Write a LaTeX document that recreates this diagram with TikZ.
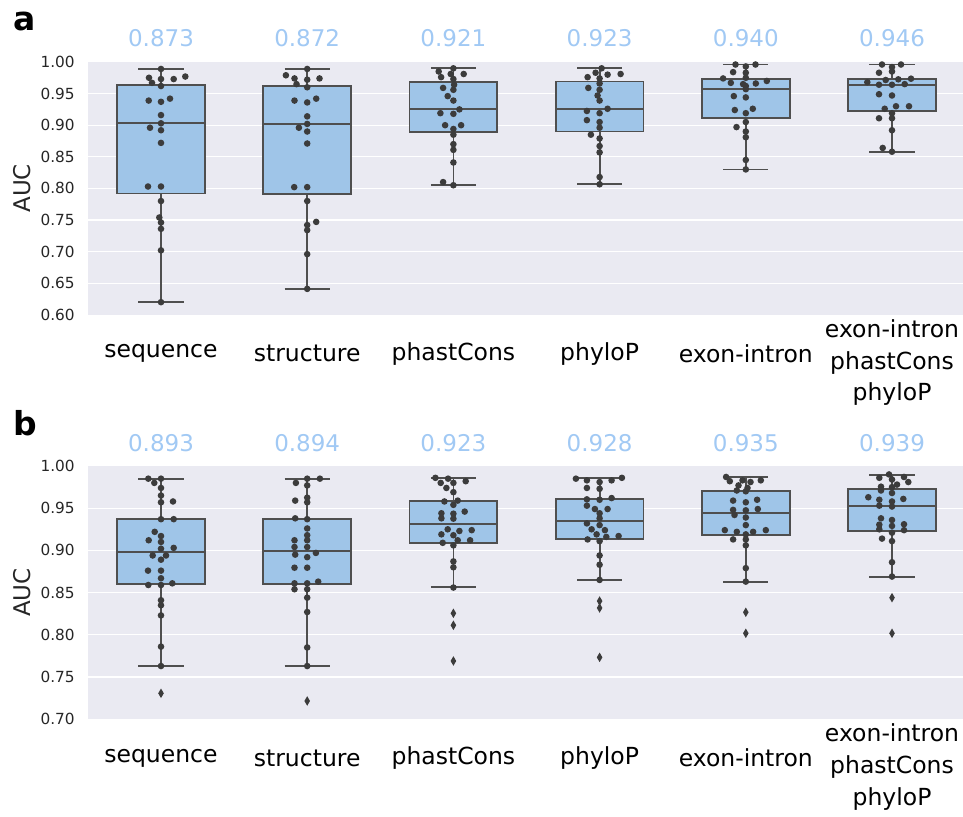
\documentclass[tikz,border=0pt]{standalone}
\usepackage{fontspec}
\setmainfont{DejaVu Sans}
\usepackage{xcolor}
\usepackage{tikz}
\definecolor{panelbg}{HTML}{EAEAF2}
\definecolor{boxblue}{HTML}{9FC5E8}
\definecolor{meanblue}{HTML}{A1C9F4}
\definecolor{boxline}{HTML}{4F4F4F}
\definecolor{dotgray}{HTML}{3C3C3C}
\definecolor{ticktext}{HTML}{262626}
\tikzstyle{panel} = [fill=panelbg]
\tikzstyle{gridline} = [white, line width=1.3pt]
\tikzstyle{ticklab} = [anchor=east, text=ticktext, font=\fontsize{15.3}{18}\selectfont, inner sep=0pt]
\tikzstyle{meanlab} = [text=meanblue, font=\fontsize{23}{28}\selectfont, inner sep=0pt]
\tikzstyle{catlab} = [text=black, font=\fontsize{23.5}{31.7}\selectfont, align=center, inner sep=0pt]
\tikzstyle{axislab} = [rotate=90, text=ticktext, font=\fontsize{23}{28}\selectfont, inner sep=0pt]
\tikzstyle{panellab} = [anchor=base west, font=\fontsize{33}{40}\selectfont\bfseries, inner sep=0pt]
\tikzstyle{boxbody} = [fill=boxblue, draw=boxline, line width=1.8pt]
\tikzstyle{whisker} = [draw=boxline, line width=1.8pt]
\tikzstyle{swarmdot} = [fill=dotgray]
% box: position, low whisker, Q1, median, Q3, high whisker
\newcommand{\aucbox}[6]{%
  \draw[whisker] (#1,#2) -- (#1,#3) (#1,#5) -- (#1,#6)
    (#1-0.154,#2) -- (#1+0.154,#2) (#1-0.154,#6) -- (#1+0.154,#6);
  \filldraw[boxbody] (#1-0.3,#3) rectangle (#1+0.3,#5);
  \draw[whisker] (#1-0.3,#4) -- (#1+0.3,#4);
}
% swarm points: position, list of offset/value
\newcommand{\swarm}[2]{\foreach \dx/\v in {#2} \fill[swarmdot] ([xshift=\dx pt]#1,\v) circle (3.3pt);}
% outlier diamond
\newcommand{\flier}[2]{\fill[swarmdot] ([yshift=4.8pt]#1,#2) -- ++(2.8pt,-4.8pt) -- ++(-2.8pt,-4.8pt) -- ++(-2.8pt,4.8pt) -- cycle;}

\begin{document}
\begin{tikzpicture}[x=1pt, y=-1pt]
	\useasboundingbox (0,0) rectangle (963,816);
	\node[panellab] (taga) at (13,31) {a};
	\node[panellab] (tagb) at (13,435) {b};
	% panel a
	\begin{scope}[x=146.2pt, y=632pt, xshift=14.8pt, yshift=-694pt]
		\fill[panel] (0.5,0.6) rectangle (6.5,1.0);
		\foreach \g in {0.65,0.70,0.75,0.80,0.85,0.90,0.95} \draw[gridline] (0.5,\g) -- (6.5,\g);
		\foreach \g [count=\k] in {0.60,0.65,0.70,0.75,0.80,0.85,0.90,0.95,1.00}
			\node[ticklab] (ticka\k) at ([xshift=-13pt]0.5,\g) {\g};
		\node[axislab] (auca) at ([xshift=-66pt]0.5,0.8) {AUC};
		\foreach \m [count=\i] in {0.873,0.872,0.921,0.923,0.940,0.946}
			\node[meanlab] (meana\i) at ([yshift=24pt]\i,1.0) {\m};
		\foreach \c [count=\i] in {sequence,structure,phastCons,phyloP,exon-intron}
			\node[catlab] (cata\i) at ([yshift=-39pt]\i,0.6) {\c};
		\node[catlab] (cata6) at ([yshift=-48pt]6,0.6) {exon-intron\\phastCons\\phyloP};
		\aucbox{1}{0.620}{0.792}{0.903}{0.964}{0.989}
		\aucbox{2}{0.641}{0.791}{0.902}{0.9625}{0.989}
		\aucbox{3}{0.805}{0.889}{0.926}{0.968}{0.990}
		\aucbox{4}{0.8065}{0.890}{0.926}{0.969}{0.990}
		\aucbox{5}{0.830}{0.912}{0.957}{0.973}{0.996}
		\aucbox{6}{0.858}{0.923}{0.964}{0.973}{0.996}
		\swarm{1}{0/0.989,-12/0.975,0/0.973,12.7/0.973,24.3/0.977,-9/0.967,0/0.962,-12.3/0.939,0/0.937,9/0.942,0/0.916,-11/0.896,0/0.903,0/0.892,0/0.872,-13/0.803,0/0.803,0/0.780,-1.7/0.754,0/0.746,0/0.736,0/0.702,0/0.620}
		\swarm{2}{0/0.989,-21.3/0.979,-12.7/0.974,0/0.972,12.3/0.974,-10.7/0.965,0/0.960,-12.7/0.939,0/0.936,9/0.942,0/0.914,-8.3/0.896,0/0.902,0/0.890,0/0.871,-13/0.802,0/0.802,0/0.780,9/0.747,0/0.742,0/0.734,0/0.696,0/0.641}
		\swarm{3}{0/0.990,-14.7/0.985,-12.3/0.976,-2.7/0.981,10.3/0.981,0/0.973,0.7/0.964,-10.3/0.959,0/0.956,-5.7/0.946,0/0.939,6/0.925,-13/0.919,0/0.918,-8.3/0.900,7.7/0.900,0/0.894,0/0.885,0/0.870,0/0.861,0/0.841,-10.3/0.810,0/0.805}
		\swarm{4}{2/0.990,-4/0.983,-12/0.976,0/0.974,8/0.980,21/0.981,0/0.966,0/0.956,-11.3/0.959,-2/0.947,0/0.939,8/0.926,-12.7/0.9225,0/0.919,-12.7/0.908,0/0.905,0/0.896,-8.7/0.885,0/0.879,0/0.867,0/0.857,0/0.818,0/0.8065}
		\swarm{5}{-10.3/0.996,9.7/0.996,0/0.993,-12.7/0.984,0/0.983,-22.7/0.974,0/0.975,-15/0.967,-2.7/0.965,10/0.966,21/0.970,0/0.962,0/0.957,-12/0.946,0/0.944,-11/0.924,7/0.926,0/0.919,-9.3/0.897,0/0.905,0/0.890,0/0.881,0/0.845,0/0.830}
		\swarm{6}{-10/0.996,9/0.996,0/0.992,0/0.985,-13/0.983,-24.7/0.968,-6.3/0.9715,6.3/0.9726,19/0.9736,-13/0.964,0/0.964,12.7/0.965,-13/0.949,0/0.947,-7.3/0.926,4/0.930,17/0.930,0/0.919,-13/0.911,0/0.911,0/0.892,-9.3/0.864,0/0.858}
	\end{scope}
	% panel b
	\begin{scope}[x=146.2pt, y=844pt, xshift=14.8pt, yshift=-1310pt]
		\fill[panel] (0.5,0.7) rectangle (6.5,1.0);
		\foreach \g in {0.75,0.80,0.85,0.90,0.95} \draw[gridline] (0.5,\g) -- (6.5,\g);
		\foreach \g [count=\k] in {0.70,0.75,0.80,0.85,0.90,0.95,1.00}
			\node[ticklab] (tickb\k) at ([xshift=-13pt]0.5,\g) {\g};
		\node[axislab] (aucb) at ([xshift=-66pt]0.5,0.85) {AUC};
		\foreach \m [count=\i] in {0.893,0.894,0.923,0.928,0.935,0.939}
			\node[meanlab] (meanb\i) at ([yshift=22.5pt]\i,1.0) {\m};
		\foreach \c [count=\i] in {sequence,structure,phastCons,phyloP,exon-intron}
			\node[catlab] (catb\i) at ([yshift=-39pt]\i,0.7) {\c};
		\node[catlab] (catb6) at ([yshift=-48pt]6,0.7) {exon-intron\\phastCons\\phyloP};
		\aucbox{1}{0.7634}{0.8602}{0.8977}{0.9376}{0.9846}
		\aucbox{2}{0.7634}{0.8606}{0.8996}{0.9376}{0.985}
		\aucbox{3}{0.8563}{0.9091}{0.9313}{0.9589}{0.9858}
		\aucbox{4}{0.8649}{0.9135}{0.9344}{0.9609}{0.9858}
		\aucbox{5}{0.8626}{0.9186}{0.9443}{0.9708}{0.9874}
		\aucbox{6}{0.8689}{0.923}{0.9526}{0.9727}{0.9897}
		\flier{1}{0.7307}
		\flier{2}{0.7216}
		\foreach \v in {0.8255,0.8113,0.7690} {\flier{3}{\v}}
		\foreach \v in {0.8400,0.8318,0.7733} {\flier{4}{\v}}
		\foreach \v in {0.8267,0.8018} {\flier{5}{\v}}
		\foreach \v in {0.8440,0.8018} {\flier{6}{\v}}
		\swarm{1}{-12.7/0.985,0/0.985,-6.7/0.980,0/0.974,0/0.965,0/0.957,12/0.958,0/0.937,12.7/0.937,-6.3/0.922,-12.3/0.912,0/0.917,0/0.910,0/0.902,12.7/0.903,-8.3/0.894,5/0.894,0/0.889,-13/0.876,0/0.876,0/0.867,-12.7/0.859,0/0.859,11.3/0.861,0/0.841,0/0.835,0/0.823,0/0.786,0/0.763}
		\swarm{2}{-11.3/0.980,0/0.985,12.7/0.985,0/0.977,0/0.9625,0/0.957,-12/0.959,-12/0.938,0/0.937,0/0.926,0/0.918,-12.7/0.912,0/0.912,-12.7/0.904,0/0.904,-12/0.895,0/0.892,8.7/0.897,-12.7/0.8795,0/0.8795,-12.7/0.861,-12.7/0.854,0/0.861,11/0.863,0/0.854,0/0.844,0/0.827,0/0.785,0/0.763}
		\swarm{3}{-18/0.986,-5.3/0.985,-12.7/0.980,0/0.980,12.3/0.982,-7/0.974,0/0.969,-9/0.958,4.3/0.959,0/0.954,-12/0.944,0/0.9435,11.3/0.946,-12/0.938,0/0.9376,-5.7/0.925,6/0.923,18.3/0.924,-12/0.919,0/0.918,4.3/0.912,16.7/0.912,-10.7/0.909,0/0.906,0/0.887,0/0.880,0/0.856}
		\swarm{4}{-23.7/0.985,-12.7/0.983,0/0.981,12/0.983,22.3/0.986,-12.7/0.974,0/0.973,-12.7/0.9605,0/0.960,12/0.962,-12.7/0.953,-4.7/0.949,8/0.949,0/0.944,0/0.938,-12.7/0.932,0/0.930,-8/0.925,5.3/0.924,-3/0.919,6.7/0.916,19/0.917,-12/0.913,0/0.911,0/0.894,0/0.883,0/0.865}
		\swarm{5}{-19.7/0.987,-16/0.982,-3.3/0.983,4.7/0.981,15/0.983,-7.3/0.977,1.7/0.974,-9/0.971,0/0.970,-12.7/0.959,0/0.957,11.3/0.960,-12.7/0.948,0/0.9475,12/0.949,-11.3/0.942,0/0.939,0/0.930,-21/0.924,-9/0.922,0/0.919,7.3/0.922,20/0.924,-12.7/0.913,0/0.913,0/0.906,0/0.879,0/0.863}
		\swarm{6}{-3/0.990,-12.7/0.986,0/0.984,12/0.987,16.3/0.981,5/0.978,-11/0.9755,0/0.975,-11/0.971,0/0.968,-23.7/0.963,-12.7/0.960,0/0.958,11.3/0.961,-12.7/0.953,0/0.952,-11/0.938,0/0.936,-12.7/0.9305,0/0.929,12/0.931,-12.7/0.925,0/0.921,12/0.924,-10/0.914,0/0.911,0/0.886,0/0.869}
	\end{scope}
\end{tikzpicture}
\end{document}
